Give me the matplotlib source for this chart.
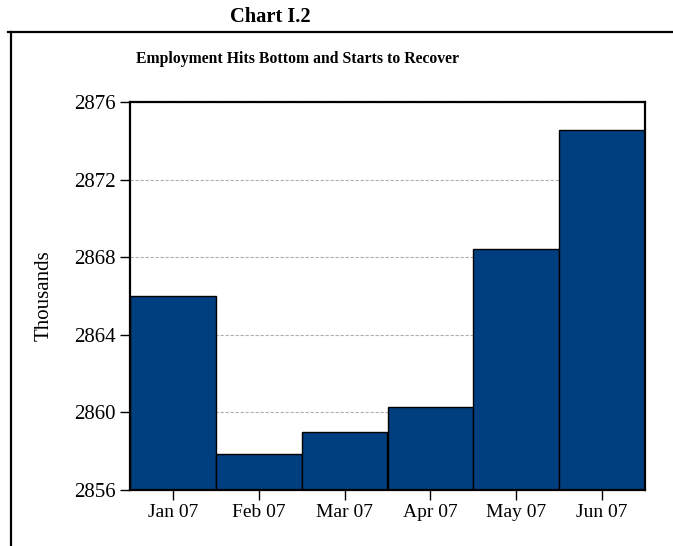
import matplotlib
matplotlib.use("Agg")
import matplotlib.pyplot as plt
from matplotlib.lines import Line2D

months = ["Jan 07", "Feb 07", "Mar 07", "Apr 07", "May 07", "Jun 07"]
employment = [2866.0, 2857.85, 2859.0, 2860.3, 2868.4, 2874.55]
y_ticks = [2856, 2860, 2864, 2868, 2872, 2876]

plt.rcParams["font.family"] = ["Liberation Serif", "DejaVu Serif"]

fig = plt.figure(figsize=(6.73, 5.46), dpi=100)
W, H = 673, 546

def fx(px):
    return px / W

def fy(py):
    return 1 - py / H

# outer frame: heading rule and left rule
fig.add_artist(Line2D([fx(8), fx(673)], [fy(32), fy(32)], color="black", lw=1.6,
                      transform=fig.transFigure))
fig.add_artist(Line2D([fx(11), fx(11)], [fy(32), fy(546)], color="black", lw=1.6,
                      transform=fig.transFigure))

fig.text(fx(270), fy(17), "Chart I.2", ha="center", va="center",
         fontsize=14.8, fontweight="bold")
fig.text(fx(298), fy(59), "Employment Hits Bottom and Starts to Recover",
         ha="center", va="center", fontsize=11.3, fontweight="bold")

ax = fig.add_axes([fx(130), fy(490), fx(645) - fx(130), fy(102) - fy(490)])
x = list(range(len(months)))
ax.bar(x, [v - y_ticks[0] for v in employment], bottom=y_ticks[0], width=1.0,
       color="#003F7F", edgecolor="black", linewidth=1.0, zorder=2)

ax.set_xlim(-0.5, len(months) - 0.5)
ax.set_ylim(y_ticks[0], y_ticks[-1])
ax.set_yticks(y_ticks)
ax.set_yticklabels([str(t) for t in y_ticks], fontsize=15)
ax.set_xticks(x)
ax.set_xticklabels(months, fontsize=14)
ax.tick_params(axis="both", direction="out", length=7, width=1, pad=3)
ax.yaxis.grid(True, linestyle=(0, (3, 1.5)), color="#b0b0b0", linewidth=0.8, zorder=0)
ax.set_axisbelow(True)
for s in ax.spines.values():
    s.set_linewidth(1.6)
    s.set_zorder(3)

ax.set_ylabel("Thousands", fontsize=15)
ax.yaxis.set_label_coords((54 - 130) / (645 - 130), 0.5)

fig.savefig("out.png", dpi=100)
